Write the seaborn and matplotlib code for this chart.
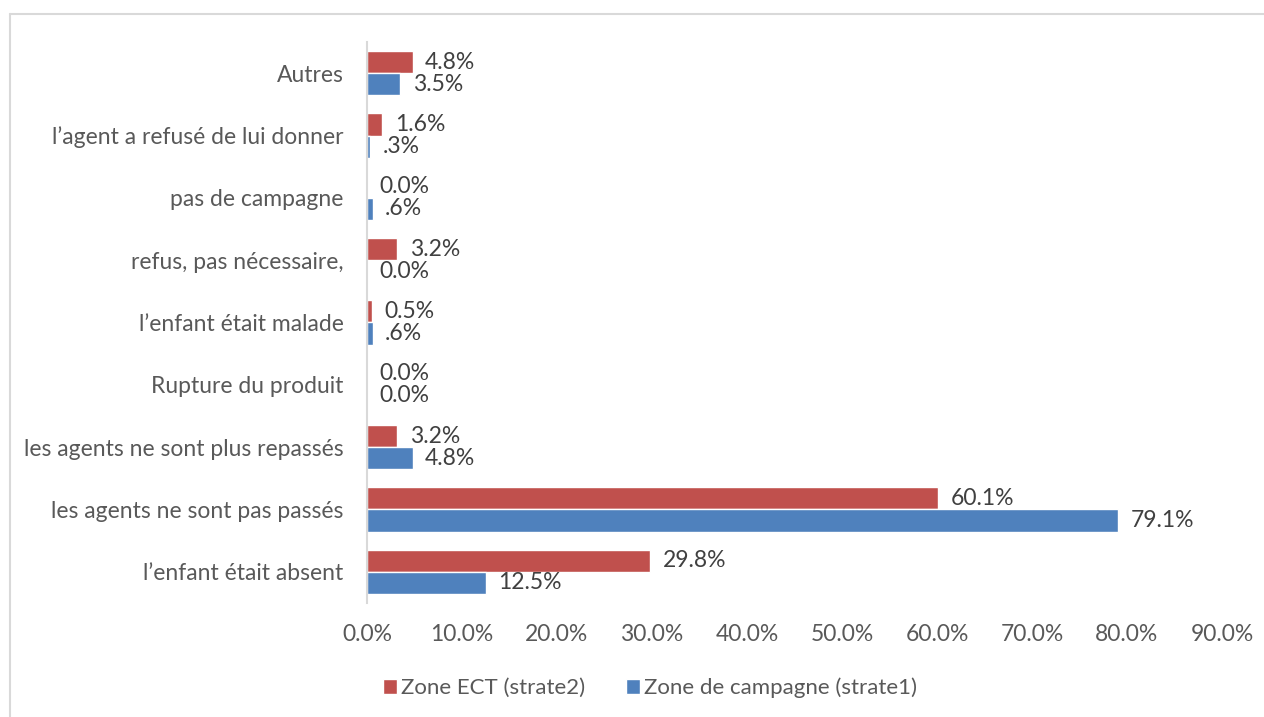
import pandas as pd
import seaborn as sns
import matplotlib.pyplot as plt
from matplotlib.lines import Line2D

# Data (top to bottom)
categories = [
    "Autres",
    "l\u2019agent a refusé de lui donner",
    "pas de campagne",
    "refus, pas nécessaire,",
    "l\u2019enfant était malade",
    "Rupture du produit",
    "les agents ne sont plus repassés",
    "les agents ne sont pas passés",
    "l\u2019enfant était absent",
]
ect_values = [4.8, 1.6, 0.0, 3.2, 0.5, 0.0, 3.2, 60.1, 29.8]
campagne_values = [3.5, 0.3, 0.6, 0.0, 0.6, 0.0, 4.8, 79.1, 12.5]
ect_labels = ["4.8%", "1.6%", "0.0%", "3.2%", "0.5%", "0.0%", "3.2%", "60.1%", "29.8%"]
campagne_labels = ["3.5%", ".3%", ".6%", "0.0%", ".6%", "0.0%", "4.8%", "79.1%", "12.5%"]
series = ["Zone ECT (strate2)", "Zone de campagne (strate1)"]
colors = ["#C0504D", "#4F81BD"]
xticks = [0, 10, 20, 30, 40, 50, 60, 70, 80, 90]

df = pd.DataFrame({
    "cause": categories * 2,
    "value": ect_values + campagne_values,
    "zone": [series[0]] * len(categories) + [series[1]] * len(categories),
})

sns.set_theme(style="white")
plt.rcParams["font.family"] = ["Lato", "DejaVu Sans"]
text_color = "#595959"
fs = 16.5

fig = plt.figure(figsize=(12.64, 7.17), dpi=100)
ax = fig.add_axes([367 / 1264, 1 - 603 / 717, (1222 - 367) / 1264, (603 - 42) / 717])

sns.barplot(data=df, y="cause", x="value", hue="zone", hue_order=series,
            order=categories, palette=colors, orient="h", width=0.71,
            saturation=1, ax=ax, legend=True)

for cont, labs in zip(ax.containers, [ect_labels, campagne_labels]):
    ax.bar_label(cont, labels=labs, padding=9, fontsize=fs, color="#404040")

ax.set_xlim(0, 90)
ax.set_xticks(xticks)
ax.set_xticklabels([f"{v:.1f}%" for v in xticks])
ax.set_xlabel("")
ax.set_ylabel("")
ax.tick_params(axis="x", length=0, pad=15, labelsize=fs, labelcolor=text_color)
ax.tick_params(axis="y", length=0, pad=17, labelsize=fs, labelcolor=text_color)
for side in ["top", "right", "bottom"]:
    ax.spines[side].set_visible(False)
ax.spines["left"].set_color("#D9D9D9")
ax.spines["left"].set_linewidth(1.5)

handles, labels = ax.get_legend_handles_labels()
ax.get_legend().remove()
leg = fig.legend(handles, labels, loc="center", ncol=2,
                 bbox_to_anchor=(650 / 1264, 1 - 688 / 717), frameon=False,
                 fontsize=16, handlelength=0.65, handleheight=0.65,
                 handletextpad=0.2, columnspacing=1.8)
for t in leg.get_texts():
    t.set_color(text_color)

# light chart border (top and left edges visible)
fig.add_artist(Line2D([10 / 1264, 1], [1 - 14 / 717, 1 - 14 / 717],
                      color="#D9D9D9", lw=1.5, transform=fig.transFigure))
fig.add_artist(Line2D([10 / 1264, 10 / 1264], [0, 1 - 14 / 717],
                      color="#D9D9D9", lw=1.5, transform=fig.transFigure))

fig.savefig("out.png", dpi=100)
